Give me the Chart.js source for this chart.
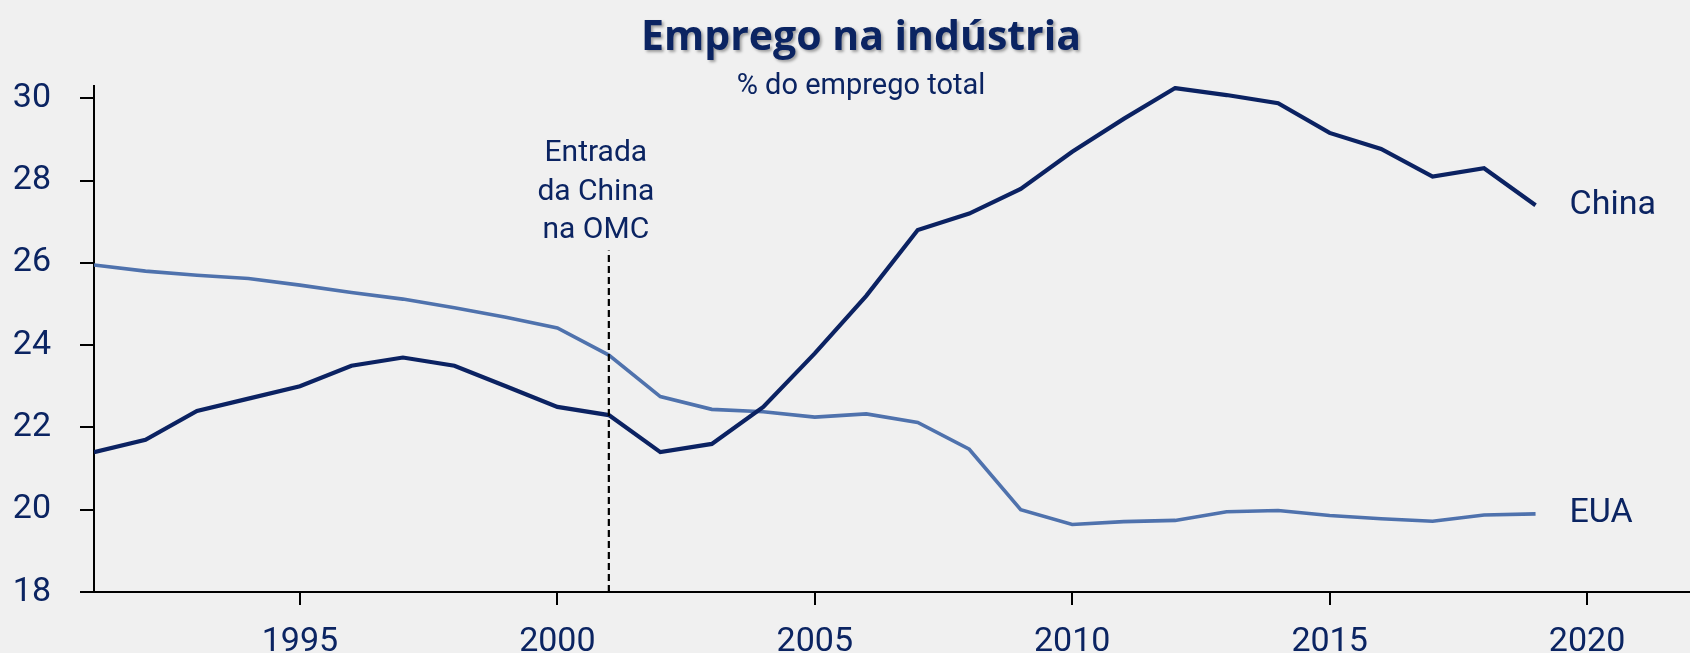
<!DOCTYPE html>
<html>
<head>
<meta charset="utf-8">
<title>Emprego na indústria</title>
<script src="https://cdn.jsdelivr.net/npm/chart.js@4"></script>
<style>
  html, body { margin: 0; padding: 0; background: #f0f0f0; }
  canvas { display: block; }
</style>
</head>
<body>
<canvas id="chartEmprego" width="1690" height="653"></canvas>
<script>
// dados (% do emprego total)
const anos = [1991, 1992, 1993, 1994, 1995, 1996, 1997, 1998, 1999, 2000,
  2001, 2002, 2003, 2004, 2005, 2006, 2007, 2008, 2009, 2010,
  2011, 2012, 2013, 2014, 2015, 2016, 2017, 2018, 2019];
const china = [21.4, 21.7, 22.4, 22.7, 23.0, 23.5, 23.7, 23.5, 23.0, 22.5,
  22.3, 21.4, 21.6, 22.5, 23.8, 25.2, 26.8, 27.2, 27.8, 28.7,
  29.5, 30.25, 30.08, 29.88, 29.16, 28.77, 28.1, 28.3, 27.4];
const eua = [25.95, 25.8, 25.7, 25.62, 25.46, 25.28, 25.12, 24.91, 24.68, 24.42,
  23.76, 22.75, 22.44, 22.38, 22.25, 22.33, 22.12, 21.47, 20.0, 19.64,
  19.71, 19.74, 19.95, 19.98, 19.86, 19.78, 19.72, 19.87, 19.9];
const yTicks = [18, 20, 22, 24, 26, 28, 30];
const xTicks = [1995, 2000, 2005, 2010, 2015, 2020];
const anoOMC = 2001;
const omcTopo = 26.3;
const notaOMC = ["Entrada", "da China", "na OMC"];

const titulo = "Emprego na indústria";
const subtitulo = "% do emprego total";
const corTexto = "#0b2462";
const corChina = "#0b2262";
const corEua = "#4f72ad";

const serie = (valores) => anos.map((ano, i) => ({ x: ano, y: valores[i] }));

// textos: título, nota da OMC e rótulos das séries
const textos = {
  id: "textos",
  afterDatasetsDraw(chart) {
    const ctx = chart.ctx;
    const x = chart.scales.x;
    const y = chart.scales.y;
    ctx.save();
    ctx.fillStyle = corTexto;
    ctx.textAlign = "center";
    ctx.textBaseline = "alphabetic";

    ctx.shadowColor = "rgba(0, 0, 0, 0.35)";
    ctx.shadowOffsetX = 2;
    ctx.shadowOffsetY = 2;
    ctx.shadowBlur = 3;
    ctx.font = "bold 41px 'Open Sans'";
    ctx.fillText(titulo, 861, 50);
    ctx.shadowColor = "transparent";

    ctx.font = "29px Roboto";
    ctx.fillText(subtitulo, 861, 94);

    ctx.font = "30px Roboto";
    const xo = x.getPixelForValue(anoOMC) - 13;
    notaOMC.forEach((linha, i) => ctx.fillText(linha, xo, 161 + i * 38.5));

    ctx.textAlign = "left";
    ctx.textBaseline = "middle";
    ctx.font = "34px Roboto";
    const n = anos.length - 1;
    const xl = x.getPixelForValue(anos[n]) + 34;
    ctx.fillText("China", xl, y.getPixelForValue(china[n]));
    ctx.fillText("EUA", xl, y.getPixelForValue(eua[n]));
    ctx.restore();
  },
};

const ctx = document.getElementById("chartEmprego").getContext("2d");
const grafico = new Chart(ctx, {
  type: "line",
  data: {
    datasets: [
      {
        label: "China",
        data: serie(china),
        borderColor: corChina,
        borderWidth: 4.2,
        pointRadius: 0,
        tension: 0,
        order: 1,
      },
      {
        label: "EUA",
        data: serie(eua),
        borderColor: corEua,
        borderWidth: 3.6,
        pointRadius: 0,
        tension: 0,
        order: 2,
      },
      {
        label: "OMC",
        data: [{ x: anoOMC, y: 18 }, { x: anoOMC, y: omcTopo }],
        borderColor: "#000",
        borderWidth: 2.2,
        borderDash: [7, 4],
        pointRadius: 0,
        order: 0,
      },
    ],
  },
  options: {
    responsive: false,
    animation: false,
    layout: { padding: { top: 86, left: 0, right: 0, bottom: 0 } },
    plugins: {
      legend: { display: false },
      title: { display: false },
      tooltip: { enabled: false },
    },
    scales: {
      x: {
        type: "linear",
        min: 1991,
        max: 2022,
        afterBuildTicks: (scale) => { scale.ticks = xTicks.map((v) => ({ value: v })); },
        afterFit: (scale) => { scale.height = 61; },
        border: { display: true, color: "#000", width: 2 },
        grid: { drawOnChartArea: false, drawTicks: true, tickLength: 13, color: "#000", lineWidth: 2 },
        ticks: {
          color: corTexto,
          font: { family: "Roboto", size: 34 },
          padding: 17,
          maxRotation: 0,
          callback: (v) => String(v),
        },
      },
      y: {
        min: 18,
        max: 30.3,
        afterBuildTicks: (scale) => { scale.ticks = yTicks.map((v) => ({ value: v })); },
        afterFit: (scale) => { scale.width = 94; },
        border: { display: true, color: "#000", width: 2 },
        grid: { drawOnChartArea: false, drawTicks: true, tickLength: 14, color: "#000", lineWidth: 2 },
        ticks: {
          color: corTexto,
          font: { family: "Roboto", size: 34 },
          padding: 29,
          callback: (v) => String(v),
        },
      },
    },
  },
  plugins: [textos],
});
</script>
</body>
</html>
